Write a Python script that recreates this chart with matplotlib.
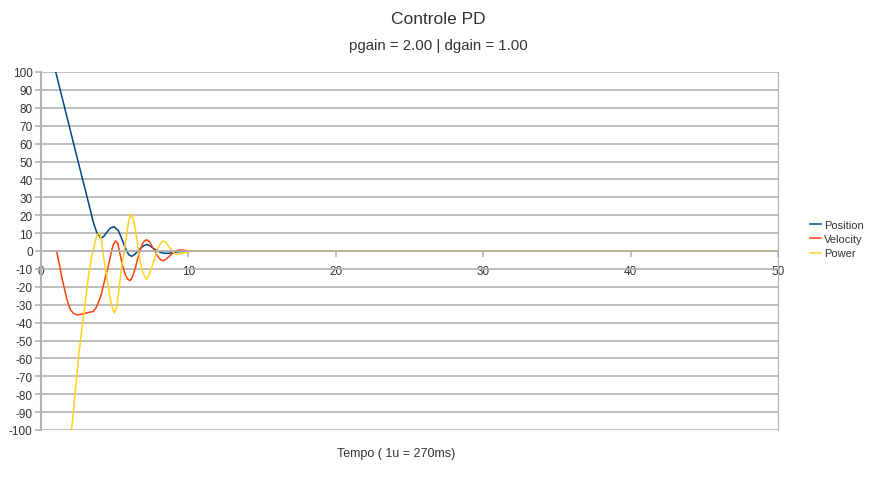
import matplotlib
matplotlib.use("Agg")
import matplotlib.pyplot as plt

plt.rcParams['font.family'] = ['Liberation Sans', 'DejaVu Sans']
plt.rcParams['axes.unicode_minus'] = False

# Position (blue)
pos_t = [1.0, 1.5, 2.0, 2.5, 3.0, 3.3, 3.55, 3.78, 4.05, 4.25, 4.46, 4.7, 4.95, 5.25,
         5.5, 5.7, 5.95, 6.15, 6.4, 6.6, 6.9, 7.17, 7.4, 7.62, 7.9, 8.19, 8.45, 8.75,
         9.0, 9.3, 9.8, 10.5, 11, 20, 30, 40, 50]
pos_v = [100, 83.5, 67, 50.5, 34.3, 24.5, 16.0, 10.4, 7.3, 8.0, 10.4, 12.8, 13.6, 11.4,
         6.5, 2.0, -2.0, -3.0, -1.6, 0.2, 2.6, 3.7, 2.8, 1.5, 0.0, -1.0, -1.3, -1.2,
         -0.8, -0.4, -0.1, 0, 0, 0, 0, 0, 0]

# Velocity (orange-red)
vel_t = [1.06, 1.29, 1.4, 1.52, 1.74, 1.97, 2.2, 2.45, 2.7, 3.0, 3.3, 3.55, 3.75, 3.89,
         4.05, 4.23, 4.4, 4.57, 4.68, 4.8, 4.91, 5.05, 5.2, 5.36, 5.55, 5.7, 5.85, 6.04,
         6.2, 6.38, 6.6, 6.83, 7.0, 7.17, 7.35, 7.51, 7.75, 7.96, 8.13, 8.3, 8.5, 8.75,
         9.0, 9.32, 9.6, 10.0, 10.5, 11, 20, 30, 40, 50]
vel_v = [0, -9.1, -14.5, -18.5, -26.5, -32.4, -34.8, -35.7, -35.4, -34.8, -34.2, -33.8,
         -31.5, -28.7, -25.5, -19.4, -13.5, -8.5, -4.0, 0.5, 3.5, 5.6, 4.5, -1.7, -8.5,
         -12.8, -15.5, -16.6, -14.5, -10.1, -3.0, 3.0, 5.5, 6.3, 5.3, 3.0, -0.5, -3.5,
         -5.0, -5.4, -4.5, -2.6, -0.8, 0.6, 0.5, 0.1, 0, 0, 0, 0, 0, 0]

# Power (yellow)
pow_t = [1.9, 2.08, 2.31, 2.53, 2.76, 2.99, 3.21, 3.44, 3.6, 3.78, 3.96, 4.1, 4.23, 4.46,
         4.68, 4.85, 4.98, 5.15, 5.25, 5.47, 5.7, 5.93, 6.1, 6.25, 6.38, 6.55, 6.72,
         6.9, 7.06, 7.17, 7.3, 7.51, 7.75, 7.96, 8.15, 8.3, 8.45, 8.64, 8.85, 9.09,
         9.25, 9.54, 10.0, 10.5, 11, 20, 30, 40, 50]
pow_v = [-112, -99.4, -80, -60.5, -44.5, -29.6, -14.7, -3.0, 2.5, 8.5, 10.4, 6.0, -3.0,
         -14.0, -26.0, -32.0, -34.6, -31.0, -24.0, -9.0, 3.0, 16.0, 20.7, 18.0, 13.2,
         4.0, -5.4, -12.0, -14.7, -15.7, -14.0, -9.1, -3.0, 2.0, 4.8, 5.6, 5.0, 3.0,
         0.5, -1.7, -1.9, -1.3, -0.4, 0, 0, 0, 0, 0, 0]

y_ticks = list(range(-100, 101, 10))
x_ticks = [0, 10, 20, 30, 40, 50]

grid_c = '#b3b3b3'
text_c = '#333333'

fig = plt.figure(figsize=(8.87, 4.81), dpi=100)
ax = fig.add_axes([41 / 887, 1 - 431 / 481, (778 - 41) / 887, (431 - 73) / 481])

ax.plot(pos_t, pos_v, color='#004586', lw=1.1, label='Position')
ax.plot(vel_t, vel_v, color='#ff420e', lw=1.1, label='Velocity')
ax.plot(pow_t, pow_v, color='#ffd320', lw=1.1, label='Power')

ax.set_xlim(0, 50)
ax.set_ylim(-100, 100)
ax.set_yticks(y_ticks)
ax.set_xticks(x_ticks)
ax.yaxis.grid(True, color=grid_c, lw=1.2)
ax.set_axisbelow(True)

ax.spines['bottom'].set_position(('data', 0))
ax.spines['bottom'].set_color(grid_c)
ax.spines['bottom'].set_linewidth(1.2)
ax.spines['left'].set_color(grid_c)
ax.spines['left'].set_linewidth(1.5)
ax.spines['right'].set_color(grid_c)
ax.spines['right'].set_linewidth(0.8)
ax.spines['top'].set_visible(False)

ax.tick_params(axis='y', colors=grid_c, labelcolor=text_c, labelsize=8.5,
               length=4, width=1.2, pad=2)
ax.tick_params(axis='x', colors=grid_c, labelcolor=text_c, labelsize=8.5,
               length=4, width=1.2, pad=6, direction='out')

fig.text(0.494, 1 - 19 / 481, 'Controle PD', ha='center', va='center',
         fontsize=12.5, color=text_c)
fig.text(0.494, 1 - 46 / 481, 'pgain = 2.00 | dgain = 1.00', ha='center',
         va='center', fontsize=10.8, color=text_c)
fig.text(396 / 887, 1 - 454 / 481, 'Tempo ( 1u = 270ms)', ha='center',
         va='center', fontsize=9, color=text_c)

fig.legend(loc='center left', bbox_to_anchor=(800 / 887, 1 - 240 / 481),
           frameon=False, fontsize=8, handlelength=1.0, handletextpad=0.3,
           labelspacing=0.4, labelcolor=text_c)

fig.savefig('out.png', dpi=100)
